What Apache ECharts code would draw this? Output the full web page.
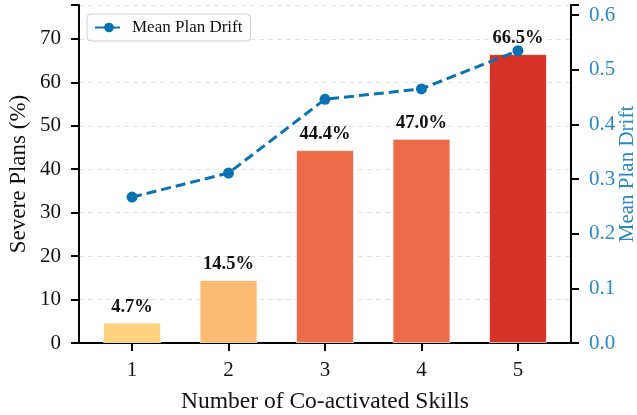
<!DOCTYPE html>
<html>
<head>
<meta charset="utf-8">
<script src="https://cdn.jsdelivr.net/npm/echarts@6/dist/echarts.min.js"></script>
<style>
html,body{margin:0;padding:0;background:#fff;}
#main{width:637px;height:415px;}
</style>
</head>
<body>
<div id="main"></div>
<script>
const categories = [1, 2, 3, 4, 5];
const severePct = [4.7, 14.5, 44.4, 47.0, 66.5];
const meanDrift = [0.267, 0.311, 0.446, 0.465, 0.535];
const barColors = ['#fed27f', '#fcba72', '#ee6b48', '#ee6b48', '#d63228'];
const leftTicks = [0, 10, 20, 30, 40, 50, 60, 70];
const rightTicks = [0.0, 0.1, 0.2, 0.3, 0.4, 0.5, 0.6];

const FONT = '"Liberation Serif", "DejaVu Serif", serif';
const BLUE = '#0b72b2';
const LBLUE = '#2a88c2';

const chart = echarts.init(document.getElementById('main'));
chart.setOption({
  animation: false,
  textStyle: { fontFamily: FONT },
  grid: { left: 79, right: 66, top: 5, bottom: 72, containLabel: false, outerBoundsMode: 'none' },
  legend: {
    left: 87, top: 14,
    padding: [5, 8, 5, 7],
    borderColor: '#cccccc', borderWidth: 1, borderRadius: 4,
    backgroundColor: 'rgba(255,255,255,0.85)',
    itemWidth: 28, itemHeight: 12, itemGap: 8,
    textStyle: { fontFamily: FONT, fontSize: 17, color: '#111', padding: [0, 0, 0, 4] },
    data: ['Mean Plan Drift']
  },
  xAxis: {
    type: 'value', min: 0.45, max: 5.55,
    name: 'Number of Co-activated Skills',
    nameLocation: 'middle', nameGap: 47, nameMoveOverlap: false,
    nameTextStyle: { fontFamily: FONT, fontSize: 23.5, color: '#111' },
    axisLine: { show: true, lineStyle: { color: '#000', width: 2 } },
    axisTick: { show: true, customValues: categories, length: 8, lineStyle: { color: '#000', width: 2 } },
    axisLabel: { customValues: categories, fontFamily: FONT, fontSize: 21, color: '#111', margin: 17 },
    splitLine: { show: false }
  },
  yAxis: [
    {
      type: 'value', min: 0, max: 77.8, interval: 10,
      name: 'Severe Plans (%)', nameLocation: 'middle', nameGap: 49, nameMoveOverlap: false,
      nameTextStyle: { fontFamily: FONT, fontSize: 23, color: '#111' },
      axisLine: { show: true, lineStyle: { color: '#000', width: 2 } },
      axisTick: { show: true, length: 8, lineStyle: { color: '#000', width: 2 } },
      axisLabel: { customValues: leftTicks, fontFamily: FONT, fontSize: 21, color: '#111', margin: 18 },
      splitLine: { show: true, lineStyle: { color: '#e3e3e3', type: [5, 4], width: 1 } }
    },
    {
      type: 'value', min: 0, max: 0.6185, interval: 0.1,
      name: 'Mean Plan Drift', nameLocation: 'middle', nameGap: 46, nameRotate: 90, nameMoveOverlap: false,
      nameTextStyle: { fontFamily: FONT, fontSize: 21, color: LBLUE },
      axisLine: { show: true, lineStyle: { color: '#000', width: 2 } },
      axisTick: { show: true, length: 8, lineStyle: { color: '#000', width: 2 } },
      axisLabel: { customValues: rightTicks, fontFamily: FONT, fontSize: 21, color: LBLUE, margin: 18,
        formatter: v => v.toFixed(1) },
      splitLine: { show: false }
    }
  ],
  series: [
    {
      name: 'Severe Plans', type: 'bar', xAxisIndex: 0, yAxisIndex: 0,
      barWidth: 58,
      data: categories.map((c, i) => ({
        value: [c, severePct[i]],
        itemStyle: { color: barColors[i], borderColor: 'rgba(255,255,255,0.7)', borderWidth: 1 }
      })),
      label: {
        show: true, position: 'top', distance: 6,
        fontFamily: FONT, fontSize: 18.5, fontWeight: 'bold', color: '#111',
        formatter: p => p.value[1].toFixed(1) + '%'
      },
      z: 2
    },
    {
      name: 'Mean Plan Drift', type: 'line', xAxisIndex: 0, yAxisIndex: 1,
      data: categories.map((c, i) => [c, meanDrift[i]]),
      symbol: 'circle', symbolSize: 11,
      itemStyle: { color: BLUE },
      lineStyle: { color: BLUE, width: 3, type: [10, 5] },
      z: 5
    }
  ]
});
</script>
</body>
</html>
